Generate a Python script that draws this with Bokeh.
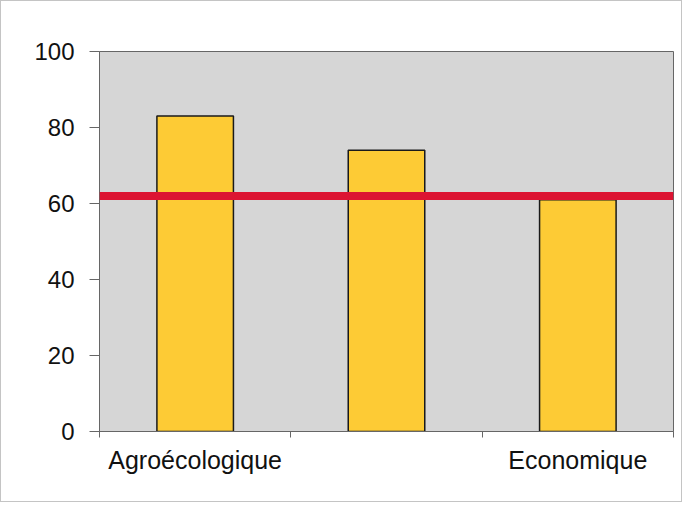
from bokeh.plotting import figure
from bokeh.models import Range1d, FixedTicker, Span
from bokeh.embed import file_html
from bokeh.resources import INLINE

# Data
categories = ["Agroécologique", "", "Economique"]
scores = [83, 74, 61]
threshold = 62
y_ticks = [0, 20, 40, 60, 80, 100]

xs = [i + 0.5 for i in range(len(categories))]

p = figure(width=682, height=502, output_backend="svg", toolbar_location=None,
           x_range=Range1d(0, len(categories)), y_range=Range1d(0, 100),
           min_border_left=98, min_border_right=10, min_border_top=50, min_border_bottom=72)

p.background_fill_color = "#d6d6d6"
p.border_fill_color = "white"
p.outline_line_color = "#666666"
p.outline_line_width = 1
p.grid.visible = False

p.vbar(x=xs, top=scores, width=0.4, bottom=0, fill_color="#fdcb35",
       line_color="#1a1a1a", line_width=1.5)

p.add_layout(Span(location=threshold, dimension="width", line_color="#dc1432",
                  line_width=8))

# x axis
p.xaxis.ticker = FixedTicker(ticks=xs, minor_ticks=[float(i) for i in range(len(categories) + 1)])
p.xaxis.major_label_overrides = {x: c for x, c in zip(xs, categories)}
p.xaxis.major_tick_out = 0
p.xaxis.major_tick_in = 0
p.xaxis.minor_tick_out = 6
p.xaxis.minor_tick_in = 0
p.xaxis.minor_tick_line_color = "#666666"
p.xaxis.axis_line_color = "#666666"
p.xaxis.major_label_text_font = "Liberation Sans"
p.xaxis.major_label_text_font_size = "25px"
p.xaxis.major_label_text_color = "#111111"
p.xaxis.major_label_standoff = 8

# y axis
p.yaxis.ticker = FixedTicker(ticks=y_ticks)
p.yaxis.minor_tick_line_color = None
p.yaxis.major_tick_out = 10
p.yaxis.major_tick_in = 0
p.yaxis.major_tick_line_color = "#666666"
p.yaxis.axis_line_color = "#666666"
p.yaxis.major_label_text_font = "Liberation Sans"
p.yaxis.major_label_text_font_size = "24px"
p.yaxis.major_label_text_color = "#111111"
p.yaxis.major_label_standoff = 15

p.styles = {"border": "1px solid #c4c4c4", "box-sizing": "border-box"}

open("out.html", "w").write(file_html(p, INLINE))
